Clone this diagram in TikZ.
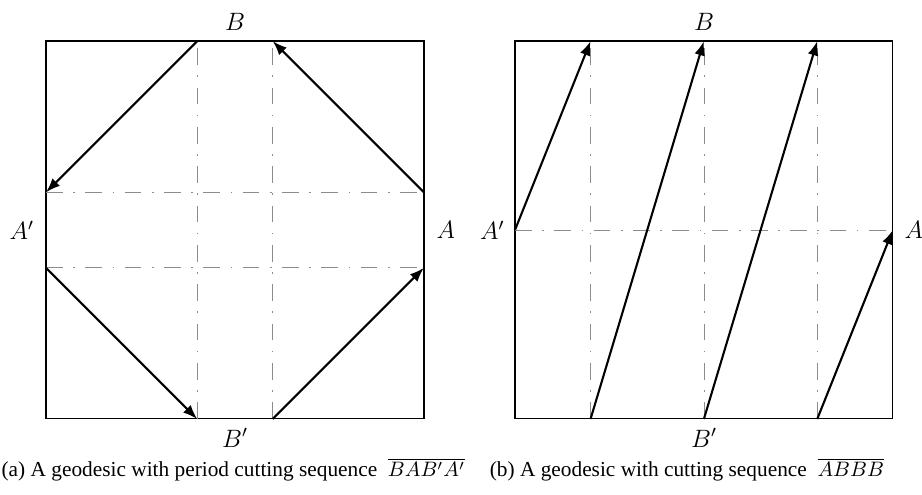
\documentclass[tikz,border=0pt]{standalone}
\usepackage{fontspec}
\newfontfamily\capfont{Liberation Serif}
\usetikzlibrary{arrows.meta}
\definecolor{gridgray}{HTML}{8C8C8C}
\tikzset{
  frame/.style={draw=black, line width=0.5pt},
  cutline/.style={draw=gridgray, line width=0.4pt, dash pattern=on 8pt off 5pt on 0.8pt off 5pt},
  geo/.style={-{Latex[length=2.4mm, width=1.8mm]}, line width=1pt, draw=black},
  side/.style={font=\large, inner sep=0pt},
  caption/.style={font=\capfont\fontsize{10.2}{12}\selectfont, inner sep=0pt}
}
\begin{document}
\begin{tikzpicture}
\useasboundingbox (0,0) rectangle (15.49,8.316);

% (a) period B A B' A'
\begin{scope}[shift={(0.773,1.277)}, scale=6.35]
\draw[frame] (0,0) rectangle (1,1);
\foreach \t in {0.4,0.6} {
  \draw[cutline] (\t,0) -- (\t,1);
  \draw[cutline] (0,\t) -- (1,\t);
}
\coordinate (aB1) at (0.4,1);
\coordinate (aB2) at (0.6,1);
\coordinate (aA1) at (1,0.6);
\coordinate (aA2) at (1,0.4);
\coordinate (aBp1) at (0.4,0);
\coordinate (aBp2) at (0.6,0);
\coordinate (aAp1) at (0,0.6);
\coordinate (aAp2) at (0,0.4);
\draw[geo] (aB1) -- (aAp1);
\draw[geo] (aAp2) -- (aBp1);
\draw[geo] (aBp2) -- (aA2);
\draw[geo] (aA1) -- (aB2);
\node[side] (aB) at (0.5,1.05) {$B$};
\node[side] (aBp) at (0.5,-0.05) {$B'$};
\node[side] (aAp) at (-0.064,0.5) {$A'$};
\node[side] (aA) at (1.058,0.5) {$A$};
\end{scope}

% (b) A B B B
\begin{scope}[shift={(8.652,1.277)}, scale=6.35]
\draw[frame] (0,0) rectangle (1,1);
\foreach \t in {0.2,0.5,0.8} {
  \draw[cutline] (\t,0) -- (\t,1);
}
\draw[cutline] (0,0.5) -- (1,0.5);
\coordinate (bAp) at (0,0.5);
\coordinate (bA) at (1,0.5);
\foreach \t/\n in {0.2/1,0.5/2,0.8/3} {
  \coordinate (bB\n) at (\t,1);
  \coordinate (bBp\n) at (\t,0);
}
\draw[geo] (bAp) -- (bB1);
\draw[geo] (bBp1) -- (bB2);
\draw[geo] (bBp2) -- (bB3);
\draw[geo] (bBp3) -- (bA);
\node[side] (bBl) at (0.5,1.05) {$B$};
\node[side] (bBpl) at (0.5,-0.05) {$B'$};
\node[side] (bApl) at (-0.06,0.5) {$A'$};
\node[side] (bAl) at (1.055,0.5) {$A$};
\end{scope}

\node[caption, anchor=west] (capa) at (0.02,0.42) {(a) A geodesic with period cutting sequence \ $\overline{BAB'A'}$};
\node[caption] (capb) at (11.54,0.42) {(b) A geodesic with cutting sequence \ $\overline{ABBB}$};

\end{tikzpicture}
\end{document}
